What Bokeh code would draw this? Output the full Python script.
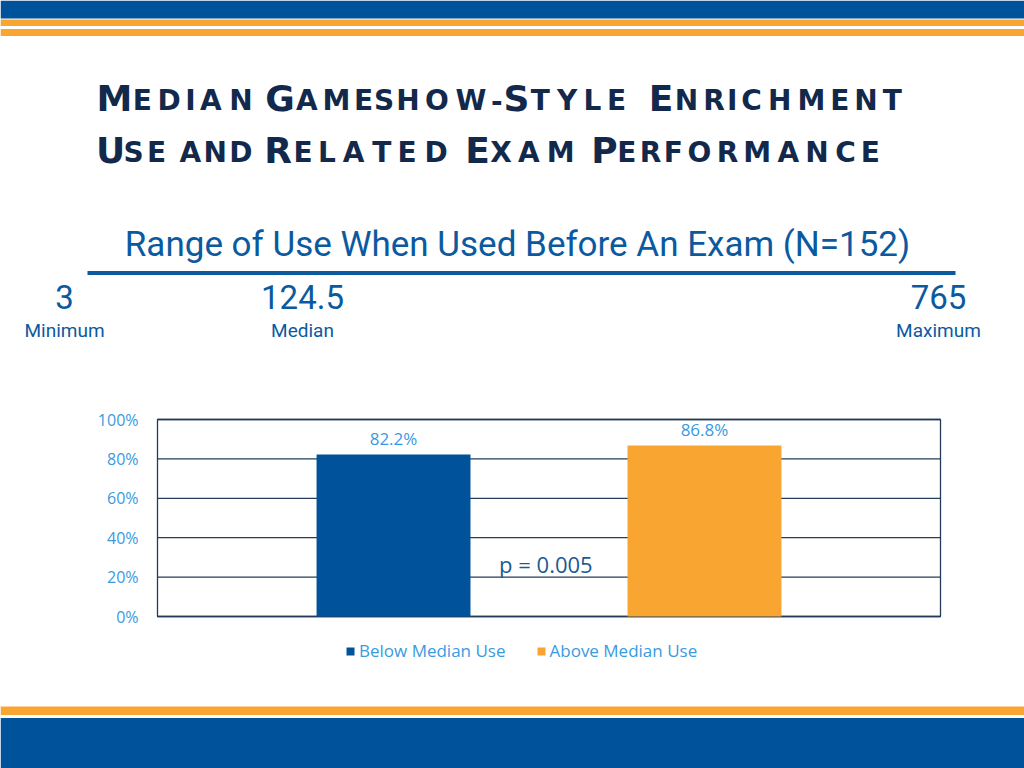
from bokeh.plotting import figure
from bokeh.models import (Range1d, ColumnDataSource, Legend, LegendItem)
from bokeh.embed import file_html
from bokeh.resources import INLINE
from bokeh.core.properties import value

# ---------------- data ----------------
categories = ["Below Median Use", "Above Median Use"]
exam_scores = [0.822, 0.868]
score_labels = ["82.2%", "86.8%"]
y_ticks = [0.0, 0.2, 0.4, 0.6, 0.8, 1.0]
p_value_text = "p = 0.005"
range_numbers = ["3", "124.5", "765"]
range_names = ["Minimum", "Median", "Maximum"]
subtitle = "Range of Use When Used Before An Exam (N=152)"

# title in small caps: (line, chunk, ink start, ink end, is capital)
title_chunks = [
    (0, "M", 98, 130, True), (0, "EDIAN", 130, 256, False),
    (0, "G", 266, 293, True), (0, "AMESHOW-", 293, 503, False),
    (0, "S", 505, 527, True), (0, "TYLE", 527, 629, False),
    (0, "E", 650, 671, True), (0, "NRICHMENT", 671, 903, False),
    (1, "U", 98, 122, True), (1, "SE", 122, 168, False),
    (1, "AND", 178, 253, False),
    (1, "R", 265, 290, True), (1, "ELATED", 290, 452, False),
    (1, "E", 467, 487, True), (1, "XAM", 487, 578, False),
    (1, "P", 593, 615, True), (1, "ERFORMANCE", 615, 881, False),
]

# ---------------- style ----------------
BLUE = "#00539b"
ORANGE = "#f8a532"
NAVY = "#13294b"
TEXT_BLUE = "#0b5aa0"
LIGHT_BLUE = "#3a9ae0"
GRID = "#243c5a"
bar_colors = [BLUE, ORANGE]

letter_w = {"A": .70, "B": .62, "C": .68, "D": .74, "E": .57, "F": .52, "G": .74,
            "H": .74, "I": .30, "L": .50, "M": .87, "N": .76, "O": .80, "P": .58,
            "R": .63, "S": .52, "T": .57, "U": .71, "W": 1.0, "X": .66, "Y": .62, "-": .36}

W, H = 1024, 768
# chart plot area on the slide (pixels) and its data extent
FX0, FX1, FY0, FY1 = 157, 940, 419, 616
PAD = 0.259
CX0, CX1 = -PAD, len(categories) + PAD
CY0, CY1 = 0.0, 1.0


def extend(a0, a1, p0, p1, total):
    """data range covering the whole canvas, given that data a0..a1 spans pixels p0..p1"""
    k = (a1 - a0) / (p1 - p0)
    return a0 - p0 * k, a1 + (total - p1) * k


def lift(size):
    # keep the alphabetic baseline where it is asked for
    return -round(0.34 * size)


cx_lo, cx_hi = extend(CX0, CX1, FX0, FX1, W)
cy_top, cy_bot = extend(CY1, CY0, FY0, FY1, H)

p = figure(width=W, height=H, x_range=Range1d(0, W), y_range=Range1d(H, 0),
           x_axis_location=None, y_axis_location=None,
           output_backend="svg", toolbar_location=None, min_border=0)
p.extra_x_ranges = {"cx": Range1d(cx_lo, cx_hi)}
p.extra_y_ranges = {"cy": Range1d(cy_bot, cy_top)}
p.grid.visible = False
p.outline_line_color = None
p.background_fill_color = "white"
p.border_fill_color = "white"
CH = dict(x_range_name="cx", y_range_name="cy")

# ---- banners ----
bands_top = [0, 19, 28.5, 706, 717.5]
bands_bot = [18, 25.5, 35.5, 714.5, 768]
bands_col = [BLUE, ORANGE, ORANGE, ORANGE, BLUE]
p.quad(left=0, right=W, top=bands_top, bottom=bands_bot, fill_color=bands_col, line_color=None)

# ---- title (small caps, letter by letter) ----
baselines = [109.5, 162]
big = dict(x=[], y=[], t=[])
small = dict(x=[], y=[], t=[])
for line, chunk, x0, x1, cap in title_chunks:
    ws = [letter_w[c] for c in chunk]
    tot = sum(ws)
    cum = 0.0
    for c, w in zip(chunk, ws):
        d = big if cap else small
        d["x"].append(x0 + (cum + w / 2) / tot * (x1 - x0))
        d["y"].append(baselines[line])
        d["t"].append(c)
        cum += w
for d, size in ((big, 36), (small, 28)):
    p.text(x=d["x"], y=d["y"], text=d["t"], text_font=value("DejaVu Sans"),
           text_font_style="bold", text_font_size=f"{size}px", text_color=NAVY,
           text_align="center", text_baseline="alphabetic", y_offset=lift(size))

# ---- range of use ----
p.text(x=[517], y=[256], text=[subtitle], text_font=value("Roboto"), text_font_size="35px",
       text_color=TEXT_BLUE, text_align="center", text_baseline="alphabetic",
       y_offset=lift(35))
p.quad(left=[87], right=[955], top=[270.5], bottom=[274.5], fill_color=TEXT_BLUE, line_color=None)
range_x = [64, 302, 938]
p.text(x=range_x, y=[307.5] * 3, text=range_numbers, text_font=value("Roboto"),
       text_font_size="33px", text_color=TEXT_BLUE, text_align="center",
       text_baseline="alphabetic", y_offset=lift(33))
p.text(x=range_x, y=[336] * 3, text=range_names, text_font=value("Roboto"),
       text_font_size="19px", text_color=TEXT_BLUE, text_align="center",
       text_baseline="alphabetic", y_offset=lift(19))

# ---- chart ----
cat_pos = [i + 0.5 for i in range(len(categories))]
src = ColumnDataSource(dict(x=cat_pos, cat=categories, val=exam_scores, lbl=score_labels,
                            color=bar_colors))
p.segment(x0=CX0, x1=CX1, y0=y_ticks, y1=y_ticks, line_color=GRID, line_width=1.3, **CH)
p.quad(left=[CX0], right=[CX1], bottom=[CY0], top=[CY1], fill_color=None,
       line_color=GRID, line_width=1.3, **CH)
p.text(x=CX0, y=y_ticks, text=[f"{t:.0%}" for t in y_ticks], x_offset=-19,
       text_font=value("Open Sans"), text_font_size="16px", text_color=LIGHT_BLUE,
       text_align="right", text_baseline="middle", **CH)
bars = p.vbar(x="x", top="val", width=0.495, source=src, fill_color="color",
              line_color=None, **CH)
p.text(x="x", y="val", text="lbl", source=src, y_offset=-10 + lift(17),
       text_font=value("Open Sans"), text_font_size="17px", text_color=LIGHT_BLUE,
       text_align="center", text_baseline="alphabetic", **CH)
p.text(x=[0.99], y=[0.23], text=[p_value_text], text_font=value("Open Sans"),
       text_font_size="22px", text_color="#1a5a96", text_align="center",
       text_baseline="alphabetic", y_offset=lift(22), **CH)

legend = Legend(items=[LegendItem(label=categories[i], renderers=[bars], index=i)
                       for i in range(len(categories))],
                orientation="horizontal", location=(345, 106),
                border_line_color=None, background_fill_alpha=0,
                label_text_font="Open Sans", label_text_font_size="17px",
                label_text_color=LIGHT_BLUE, glyph_width=10, glyph_height=10,
                label_standoff=4, spacing=30, padding=0, margin=0)
p.add_layout(legend, "center")

open("out.html", "w").write(file_html(p, INLINE))
